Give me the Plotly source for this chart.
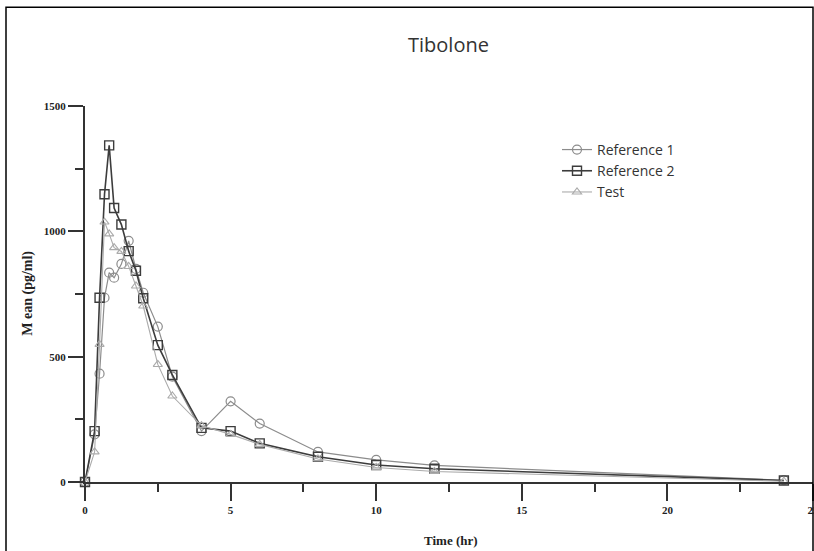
import plotly.graph_objects as go

time_hr = [0, 0.33, 0.5, 0.67, 0.83, 1, 1.25, 1.5, 1.75, 2, 2.5, 3, 4, 5, 6, 8, 10, 12, 24]
reference_1 = [0, 190, 432, 735, 835, 815, 870, 962, 850, 755, 620, 420, 203, 322, 233, 120, 88, 66, 7]
reference_2 = [0, 203, 735, 1148, 1343, 1093, 1027, 921, 843, 733, 546, 427, 216, 203, 154, 101, 68, 53, 6]
test = [0, 120, 549, 1037, 990, 935, 920, 860, 782, 702, 469, 343, 225, 190, 150, 92, 58, 42, 3]

x_ticks = [0, 5, 10, 15, 20, 25]
y_ticks = [0, 500, 1000, 1500]

W, H = 814, 551
L, R, T, B = 85, 1, 106, 68.5
pw, ph = W - L - R, H - T - B
y0px = H - B

fig = go.Figure()
fig.add_trace(go.Scatter(
    x=time_hr, y=reference_1, name="Reference 1", mode="lines+markers",
    line=dict(color="#8c8c8c", width=1.2),
    marker=dict(symbol="circle-open", size=9, color="#8c8c8c", line=dict(width=1.2)),
    cliponaxis=False))
fig.add_trace(go.Scatter(
    x=time_hr, y=reference_2, name="Reference 2", mode="lines+markers",
    line=dict(color="#3c3c3c", width=1.6),
    marker=dict(symbol="square-open", size=9, color="#3c3c3c", line=dict(width=1.4)),
    cliponaxis=False))
fig.add_trace(go.Scatter(
    x=time_hr, y=test, name="Test", mode="lines+markers",
    line=dict(color="#ababab", width=1.1),
    marker=dict(symbol="triangle-up-open", size=8, color="#ababab", line=dict(width=1.1)),
    cliponaxis=False))

tickfont = dict(family="Liberation Serif", size=11, color="#222")
fig.update_layout(
    width=W, height=H, autosize=False,
    margin=dict(l=L, r=R, t=T, b=B, autoexpand=False),
    paper_bgcolor="white", plot_bgcolor="white",
    showlegend=True,
    legend=dict(x=(557 - L) / pw, y=(y0px - 134) / ph, xanchor="left", yanchor="top",
                font=dict(family="Open Sans", size=14, color="#333"),
                bgcolor="rgba(0,0,0,0)", tracegroupgap=0),
    xaxis=dict(range=[0, 25], tickvals=x_ticks, ticktext=["<b>%d</b>" % v for v in x_ticks],
               automargin=False,
               showgrid=False, zeroline=False, showline=True, linecolor="#333", linewidth=2,
               ticks="outside", ticklen=17, tickwidth=2, tickcolor="#333",
               minor=dict(tickvals=[2.5, 7.5, 12.5, 17.5, 22.5], ticks="outside",
                          ticklen=8, tickwidth=1.5, tickcolor="#333"),
               tickfont=tickfont, ticklabeloverflow="allow"),
    yaxis=dict(range=[0, 1500], tickvals=y_ticks, ticktext=["<b>%d</b>" % v for v in y_ticks],
               automargin=False,
               showgrid=False, zeroline=False, showline=True, linecolor="#333", linewidth=2,
               ticks="outside", ticklen=15, tickwidth=2, tickcolor="#333",
               minor=dict(tickvals=[250, 750, 1250], ticks="outside",
                          ticklen=8, tickwidth=1.5, tickcolor="#333"),
               tickfont=tickfont),
    annotations=[
        dict(text="Tibolone", xref="paper", yref="paper",
             x=(448 - L) / pw, y=(y0px - 44) / ph, xanchor="center", yanchor="middle",
             showarrow=False, font=dict(family="Open Sans", size=20, color="#333")),
        dict(text="<b>Time (hr)</b>", xref="paper", yref="paper",
             x=(451 - L) / pw, y=(y0px - 541) / ph, xanchor="center", yanchor="middle",
             showarrow=False, font=dict(family="Liberation Serif", size=13, color="#222")),
        dict(text="<b>M ean (pg/ml)</b>", xref="paper", yref="paper",
             x=(28 - L) / pw, y=(y0px - 294) / ph, xanchor="center", yanchor="middle",
             textangle=-90, showarrow=False,
             font=dict(family="Liberation Serif", size=14, color="#222")),
    ],
    shapes=[dict(type="rect", xref="paper", yref="paper",
                 x0=(6 - L) / pw, x1=(813 - L) / pw,
                 y0=(y0px - 600) / ph, y1=(y0px - 7) / ph,
                 line=dict(color="black", width=1.5), fillcolor="rgba(0,0,0,0)")],
)
fig.write_html(
    "out.html",
    config={"displayModeBar": False, "responsive": False},
    post_script="document.body.style.margin='0';document.body.style.overflow='hidden';",
)
